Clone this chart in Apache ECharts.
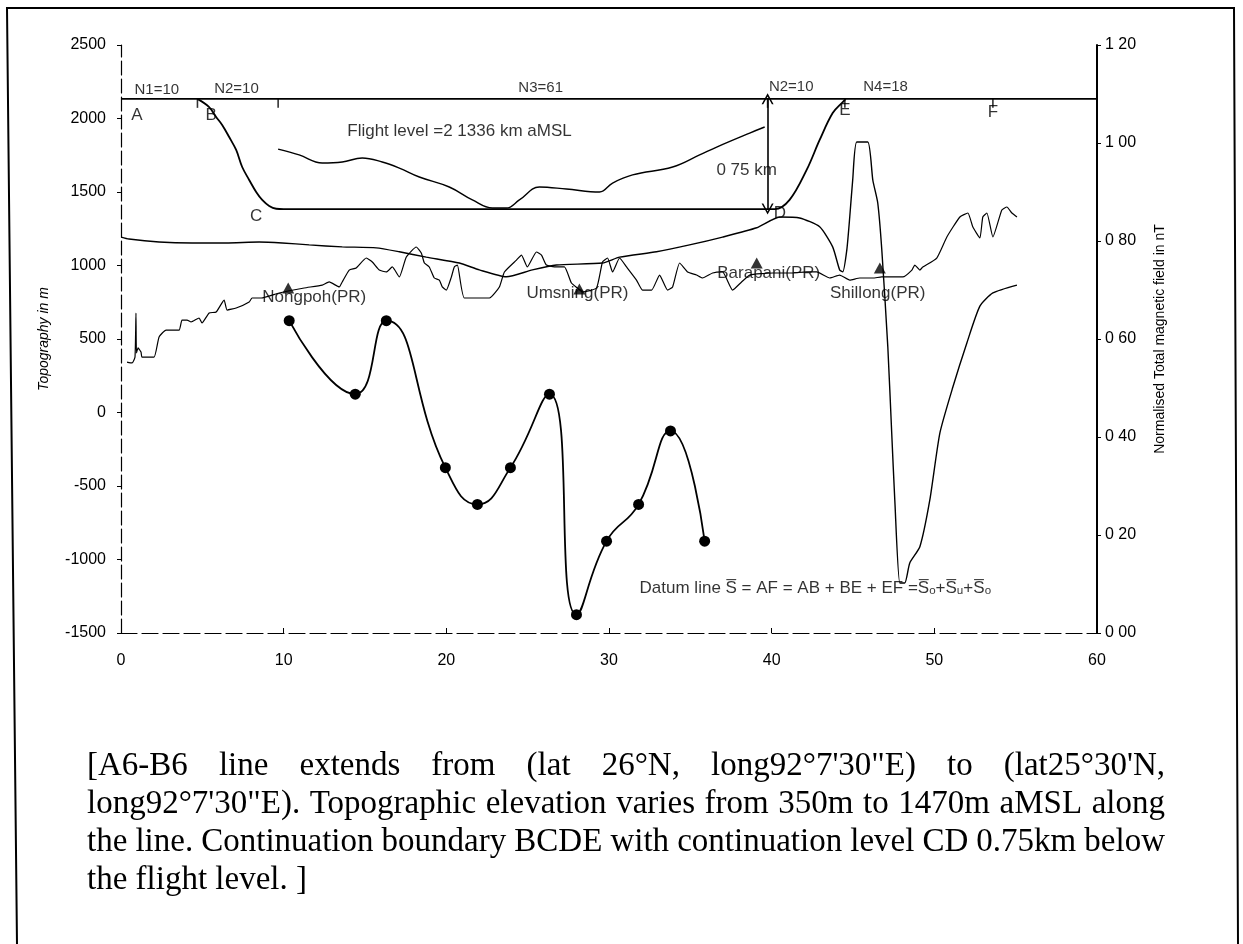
<!DOCTYPE html>
<html><head><meta charset="utf-8">
<script src="https://cdn.jsdelivr.net/npm/echarts@6/dist/echarts.min.js"></script>
<style>html,body{margin:0;padding:0;background:#fff}#c{width:1243px;height:944px}</style>
</head><body><div id="c"></div>
<script>
// ---------- DATA ----------
const xTicks = [0, 10, 20, 30, 40, 50, 60];
const leftTicks = [-1500, -1000, -500, 0, 500, 1000, 1500, 2000, 2500];
const rightTickLabels = ['0 00', '0 20', '0 40', '0 60', '0 80', '1 00', '1 20'];

const flightLevel = 2133.6;          // m aMSL
const cdLevel = 1383.6;              // flight level - 750 m

// Topography (m) along the profile (km)
const topoX = [0.37,0.68,0.86,0.92,0.95,1.05,1.23,1.29,2.03,2.34,2.77,3.57,3.75,4.06,4.31,4.80,4.98,5.42,5.85,6.34,6.52,7.08,7.88,8.06,8.62,9.72,11.26,12.37,12.80,13.42,13.6,14.03,14.46,15.08,15.45,15.88,16.31,16.68,17.11,17.54,18.15,18.46,18.65,18.95,19.26,19.57,19.75,20.0,20.31,20.49,20.68,21.11,22.65,23.26,23.57,24.31,24.62,24.98,25.54,25.85,26.15,26.77,27.26,27.69,28.06,28.37,29.23,29.6,29.91,30.22,30.65,31.08,31.69,32.06,32.62,33.11,33.6,33.91,34.34,34.83,35.38,35.75,36.37,36.98,37.6,38.15,38.65,40.06,41.11,42.15,42.77,43.57,44.18,44.8,45.42,46.22,46.77,48.06,48.62,48.8,49.11,49.29,50.15,50.77,51.57,52.06,52.37,52.8,52.98,53.23,53.6,54.15,54.46,54.77,55.08];
const topoY = [343,337,377,677,405,439,411,377,377,514,561,561,629,629,616,643,609,677,684,765,697,711,752,779,779,813,847,867,888,854,888,969,983,1051,1024,969,956,990,922,1058,1126,1085,1017,990,915,901,854,833,922,990,1003,779,779,854,956,1037,1071,990,1092,1071,1003,990,990,881,847,820,847,1024,1051,956,1051,990,901,833,833,935,833,854,1017,956,935,915,949,956,833,888,935,949,949,956,956,915,935,901,915,915,922,922,969,1003,969,990,1051,1194,1330,1357,1262,1187,1330,1357,1194,1378,1398,1357,1330];

// Normalised total magnetic field (right axis)
const magX = [0,0.49,2.34,4.37,6.46,8.49,9.91,11.57,13.6,15.69,17.11,18.77,20.8,22.03,23.69,25.29,26.77,29.6,30.65,32.92,34.95,36.98,39.08,40.49,41.72,42.95,43.75,44.18,44.37,44.62,44.80,44.98,45.23,45.91,46.22,46.52,46.77,47.14,47.38,47.57,47.88,48.18,48.49,49.11,49.72,50.34,51.14,52.0,52.8,53.6,55.08];
const magY = [0.808,0.804,0.798,0.796,0.796,0.798,0.796,0.792,0.788,0.786,0.778,0.767,0.755,0.741,0.727,0.741,0.751,0.755,0.767,0.778,0.792,0.808,0.827,0.849,0.847,0.829,0.788,0.741,0.737,0.782,0.849,0.924,1.002,1.002,0.924,0.878,0.782,0.584,0.408,0.271,0.102,0.102,0.143,0.176,0.271,0.408,0.502,0.592,0.667,0.694,0.710];

// Continued field curve (left axis units as drawn)
const contX = [9.66,10.95,12.37,13.6,14.83,16.06,17.11,18.34,20.18,21.6,22.83,23.69,24.49,25.72,27.38,29.42,30.22,31.45,33.91,35.57,36.62,38.65,39.57];
const contY = [1792,1752,1697,1704,1731,1704,1663,1602,1534,1446,1391,1391,1446,1534,1520,1500,1561,1616,1670,1752,1806,1901,1942];

// Continuation boundary B-C-D-E
const bndX = [4.7,5.42,5.85,6.22,6.65,7.08,7.45,7.88,8.31,8.68,9.11,9.54,10.0,40.2,41.1,42.15,42.95,43.75,44.37,44.55];
const bndY = [2133.6,2078,2010,1956,1874,1786,1670,1582,1500,1446,1405,1386,1383.6,1383.6,1446,1650,1854,2037,2112,2133.6];

// Depth estimates (dots)
const depthX = [10.34,14.4,16.31,19.94,21.91,23.94,26.34,28.0,29.85,31.82,33.78,35.88];
const depthY = [625,125,625,-375,-625,-375,125,-1375,-875,-625,-125,-875];

// Stations
const stationNames = ['Nongpoh(PR)','Umsning(PR)','Barapani(PR)','Shillong(PR)'];
const stationX = [10.28, 28.18, 39.08, 46.65];
const stationY = [847, 840, 1017, 983];
const stationLabelX = [11.88, 28.06, 39.82, 46.52];
const stationLabelY = [786, 813, 949, 813];

// Segment labels on flight line
const segNames = ['N1=10','N2=10','N3=61','N2=10','N4=18'];
const segX = [2.2, 7.1, 25.8, 41.2, 47.0];
const segY = [2195, 2205, 2207, 2214, 2214];
const flightTickX = [4.7, 9.66, 39.75, 44.5, 53.6];

// Boundary letters
const letterNames = ['A','B','C','D','E','F'];
const letterX = [0.98, 5.54, 8.31, 40.5, 44.5, 53.6];
const letterY = [2024, 2024, 1337, 1357, 2058, 2044];

const arrowX = 39.75;
const kmLabel = {text:'0 75 km', x:38.46, y:1650};
const flightLabel = {text:'Flight level =2 1336 km aMSL', x:13.91, y:1915};
const datumLabel = {text:'Datum line S\u0305 = AF = AB + BE + EF =S\u0305\u2092+S\u0305\u1d64+S\u0305\u2092', x:31.88, y:-1194};

const captionLines = [
  '[A6-B6 line extends from (lat 26\u00b0N, long92\u00b07\'30"E) to (lat25\u00b030\'N,',
  'long92\u00b07\'30"E). Topographic elevation varies from 350m to 1470m aMSL along',
  'the line.  Continuation boundary BCDE with continuation level CD 0.75km below',
  'the flight level. ]'
];

// ---------- CHART ----------
const FONT = 'Liberation Sans, Arial, sans-serif';
const zip = (a, b) => a.map((v, i) => [v, b[i]]);
const chart = echarts.init(document.getElementById('c'), null, {renderer: 'canvas'});

// caption (justified) via measured words
const capFont = '33px "Liberation Serif"';
const cv = document.createElement('canvas').getContext('2d');
cv.font = capFont;
const capLeft = 87, capRight = 1165, capY0 = 766, capDY = 38.2;
const captionEls = [];
captionLines.forEach((line, li) => {
  const y = capY0 + li * capDY;
  if (li === captionLines.length - 1) {
    captionEls.push({type: 'text', x: capLeft, y, style: {text: line, font: capFont, fill: '#000', verticalAlign: 'middle', align: 'left'}});
    return;
  }
  const words = line.split(/\s+/);
  const widths = words.map(w => cv.measureText(w).width);
  const total = widths.reduce((a, b) => a + b, 0);
  const gap = (capRight - capLeft - total) / (words.length - 1);
  let x = capLeft;
  words.forEach((w, i) => {
    captionEls.push({type: 'text', x, y, style: {text: w, font: capFont, fill: '#000', verticalAlign: 'middle', align: 'left'}});
    x += widths[i] + gap;
  });
});

const chevron = 'path://M0,10 L5,0 L10,10 L8.6,10 L5,2.8 L1.4,10 Z';
const lblBase = {show: true, color: '#000', fontFamily: FONT, fontSize: 16};

const option = {
  animation: false,
  backgroundColor: '#fff',
  textStyle: {fontFamily: FONT, color: '#000'},
  grid: {left: 121, right: 146, top: 45, bottom: 311, containLabel: false},
  xAxis: {
    type: 'value', min: xTicks[0], max: xTicks[xTicks.length - 1], interval: 10,
    axisLine: {show: true, onZero: false, lineStyle: {color: '#000', width: 1.2, type: [16, 5]}},
    axisTick: {show: true, inside: true, length: 5, lineStyle: {color: '#000'}},
    axisLabel: {color: '#000', fontSize: 16, fontFamily: FONT, margin: 20, formatter: v => String(v)},
    splitLine: {show: false}
  },
  yAxis: [{
    type: 'value', position: 'left', min: leftTicks[0], max: leftTicks[leftTicks.length - 1], interval: 500,
    name: 'Topography in m', nameLocation: 'middle', nameGap: 70, nameRotate: 90,
    nameTextStyle: {color: '#000', fontSize: 14, fontStyle: 'italic', fontFamily: FONT},
    axisLine: {show: true, onZero: false, lineStyle: {color: '#000', width: 1.2, type: [14, 4]}},
    axisTick: {show: true, length: 4, lineStyle: {color: '#000'}},
    axisLabel: {color: '#000', fontSize: 16, fontFamily: FONT, margin: 15, formatter: v => String(v)},
    splitLine: {show: false}
  }, {
    type: 'value', position: 'right', min: 0, max: 1.2, interval: 0.2,
    name: 'Normalised Total magnetic field in nT', nameLocation: 'middle', nameGap: 56, nameRotate: 90,
    nameTextStyle: {color: '#000', fontSize: 14, fontFamily: FONT},
    axisLine: {show: true, onZero: false, lineStyle: {color: '#000', width: 2}},
    axisTick: {show: true, length: 4, lineStyle: {color: '#000'}},
    axisLabel: {color: '#000', fontSize: 16, fontFamily: FONT, margin: 8,
      formatter: v => rightTickLabels[Math.round(v / 0.2)]},
    splitLine: {show: false}
  }],
  graphic: [
    {type: 'polyline', shape: {points: [[17, 944], [7, 8], [1234, 8], [1238, 944]]},
     style: {stroke: '#000', lineWidth: 2, fill: null}, silent: true},
    ...captionEls
  ],
  series: [
    {name: 'flight', type: 'line', data: [[0, flightLevel], [60, flightLevel]], symbol: 'none',
     lineStyle: {color: '#000', width: 1.6}},
    {name: 'flightTicks', type: 'scatter', data: flightTickX.map(x => [x, flightLevel]),
     symbol: 'rect', symbolSize: [1.6, 9], symbolOffset: [0, '50%'], itemStyle: {color: '#000'}},
    {name: 'topo', type: 'line', data: zip(topoX, topoY), symbol: 'none', smooth: 0.15,
     lineStyle: {color: '#000', width: 1.2}},
    {name: 'mag', type: 'line', yAxisIndex: 1, data: zip(magX, magY), symbol: 'none', smooth: 0.2,
     lineStyle: {color: '#000', width: 1.4}},
    {name: 'cont', type: 'line', data: zip(contX, contY), symbol: 'none', smooth: 0.4,
     lineStyle: {color: '#000', width: 1.4}},
    {name: 'boundary', type: 'line', data: zip(bndX, bndY), symbol: 'none', smooth: 0.35,
     lineStyle: {color: '#000', width: 1.8},
     markLine: {silent: true, symbol: [chevron, chevron], symbolSize: [12, 11],
       label: {show: false}, lineStyle: {color: '#000', width: 1.6, type: 'solid'},
       data: [[{coord: [arrowX, flightLevel]}, {coord: [arrowX, cdLevel]}]]}},
    {name: 'depth', type: 'line', data: zip(depthX, depthY), symbol: 'circle', symbolSize: 11, smooth: 0.5,
     itemStyle: {color: '#000'}, lineStyle: {color: '#000', width: 1.8}},
    {name: 'stations', type: 'scatter', data: zip(stationX, stationY), symbol: 'triangle', symbolSize: [12, 11],
     itemStyle: {color: '#000'}, z: 5},
    {name: 'stationLabels', type: 'scatter', symbolSize: 0, z: 6,
     data: stationNames.map((n, i) => ({name: n, value: [stationLabelX[i], stationLabelY[i]]})),
     label: {...lblBase, fontSize: 17, position: 'inside', formatter: '{b}'}},
    {name: 'segLabels', type: 'scatter', symbolSize: 0, z: 6,
     data: segNames.map((n, i) => ({name: n, value: [segX[i], segY[i]]})),
     label: {...lblBase, fontSize: 15, position: 'inside', formatter: '{b}'}},
    {name: 'letters', type: 'scatter', symbolSize: 0, z: 6,
     data: letterNames.map((n, i) => ({name: n, value: [letterX[i], letterY[i]]})),
     label: {...lblBase, fontSize: 17, position: 'inside', formatter: '{b}'}},
    {name: 'notes', type: 'scatter', symbolSize: 0, z: 6,
     data: [
       {name: kmLabel.text, value: [kmLabel.x, kmLabel.y], label: {position: 'inside'}},
       {name: flightLabel.text, value: [flightLabel.x, flightLabel.y], label: {position: 'right', distance: 0}},
       {name: datumLabel.text, value: [datumLabel.x, datumLabel.y], label: {position: 'right', distance: 0,
         fontFamily: 'Liberation Sans, DejaVu Sans, sans-serif'}}
     ],
     label: {...lblBase, fontSize: 17, formatter: '{b}'}}
  ]
};
chart.setOption(option);
</script>
</body></html>
